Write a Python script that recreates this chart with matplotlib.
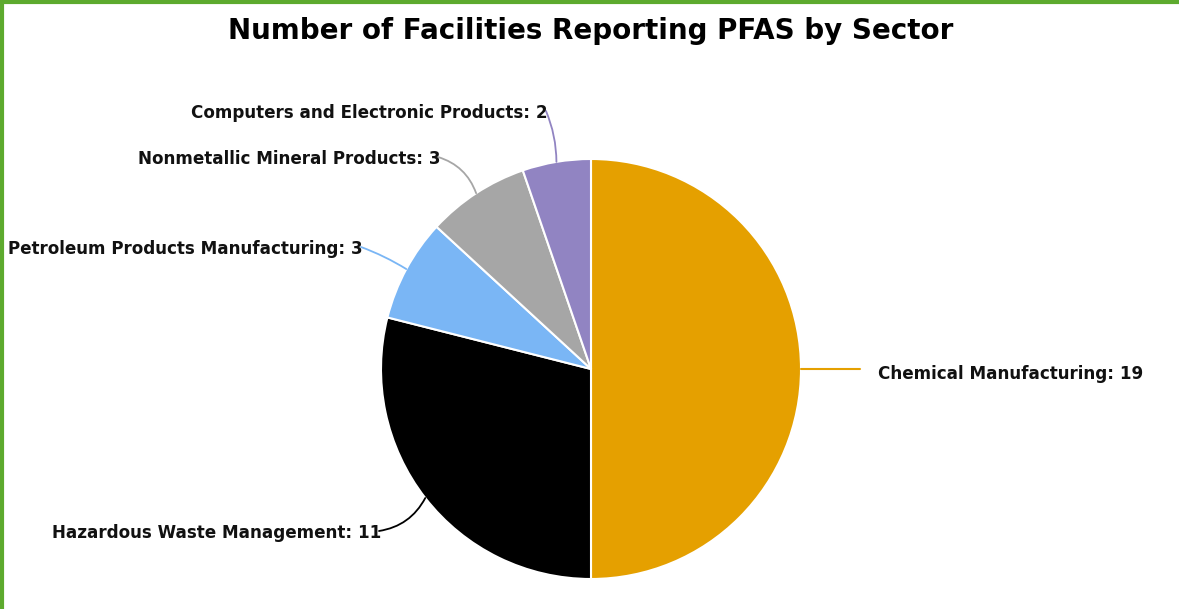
import matplotlib.pyplot as plt
import numpy as np

sectors = ["Chemical Manufacturing", "Hazardous Waste Management",
           "Petroleum Products Manufacturing", "Nonmetallic Mineral Products",
           "Computers and Electronic Products"]
counts = [19, 11, 3, 3, 2]
colors = ["#E5A000", "#000000", "#7AB6F5", "#A6A6A6", "#9184C2"]

# label text anchor (pixel coords, y from top) and alignment
label_pos = [(878, 379, "left"), (381, 538, "right"), (363, 254, "right"),
             (440, 164, "right"), (548, 118, "right")]
rads = [0.0, 0.25, -0.05, -0.25, -0.1]

W, H = 1179, 609
fig = plt.figure(figsize=(W / 100, H / 100), dpi=100)
ax = fig.add_axes([0, 0, 1, 1])

cx, cy, r = 591, H - 369, 210
wedges, _ = ax.pie(counts, colors=colors, startangle=90, counterclock=False,
                   center=(cx, cy), radius=r, frame=True,
                   wedgeprops=dict(edgecolor="white", linewidth=1.5))
ax.set_xlim(0, W)
ax.set_ylim(0, H)
ax.set_aspect("equal")
ax.axis("off")

for w, name, n, col, (tx, ty, ha), rad in zip(wedges, sectors, counts, colors, label_pos, rads):
    mid = np.deg2rad((w.theta1 + w.theta2) / 2)
    px, py = cx + r * np.cos(mid), cy + r * np.sin(mid)
    ty = H - ty
    if ha == "left":
        ax.annotate("", xy=(px, py), xytext=(tx - 18, py),
                    arrowprops=dict(arrowstyle="-", color=col, lw=1.5,
                                    shrinkA=0, shrinkB=0))
    else:
        ax.annotate("", xy=(px, py), xytext=(tx - 2, ty + 7),
                    arrowprops=dict(arrowstyle="-", color=col, lw=1.3,
                                    shrinkA=0, shrinkB=0,
                                    connectionstyle=f"arc3,rad={rad}"))
    ax.text(tx, ty, f"{name}: {n}", ha=ha, va="baseline",
            fontsize=12.1, fontweight="bold", color="#111111")

fig.text(591 / W, 1 - 31 / H, "Number of Facilities Reporting PFAS by Sector",
         ha="center", va="center", fontsize=20, fontweight="bold", color="#000000")

# green frame on top and left edges
fig.add_artist(plt.Line2D([0, 1], [1 - 1.5 / H] * 2, color="#5DAA2E", lw=3, transform=fig.transFigure))
fig.add_artist(plt.Line2D([1.5 / W] * 2, [0, 1], color="#5DAA2E", lw=3, transform=fig.transFigure))

fig.savefig("out.png", dpi=100)
